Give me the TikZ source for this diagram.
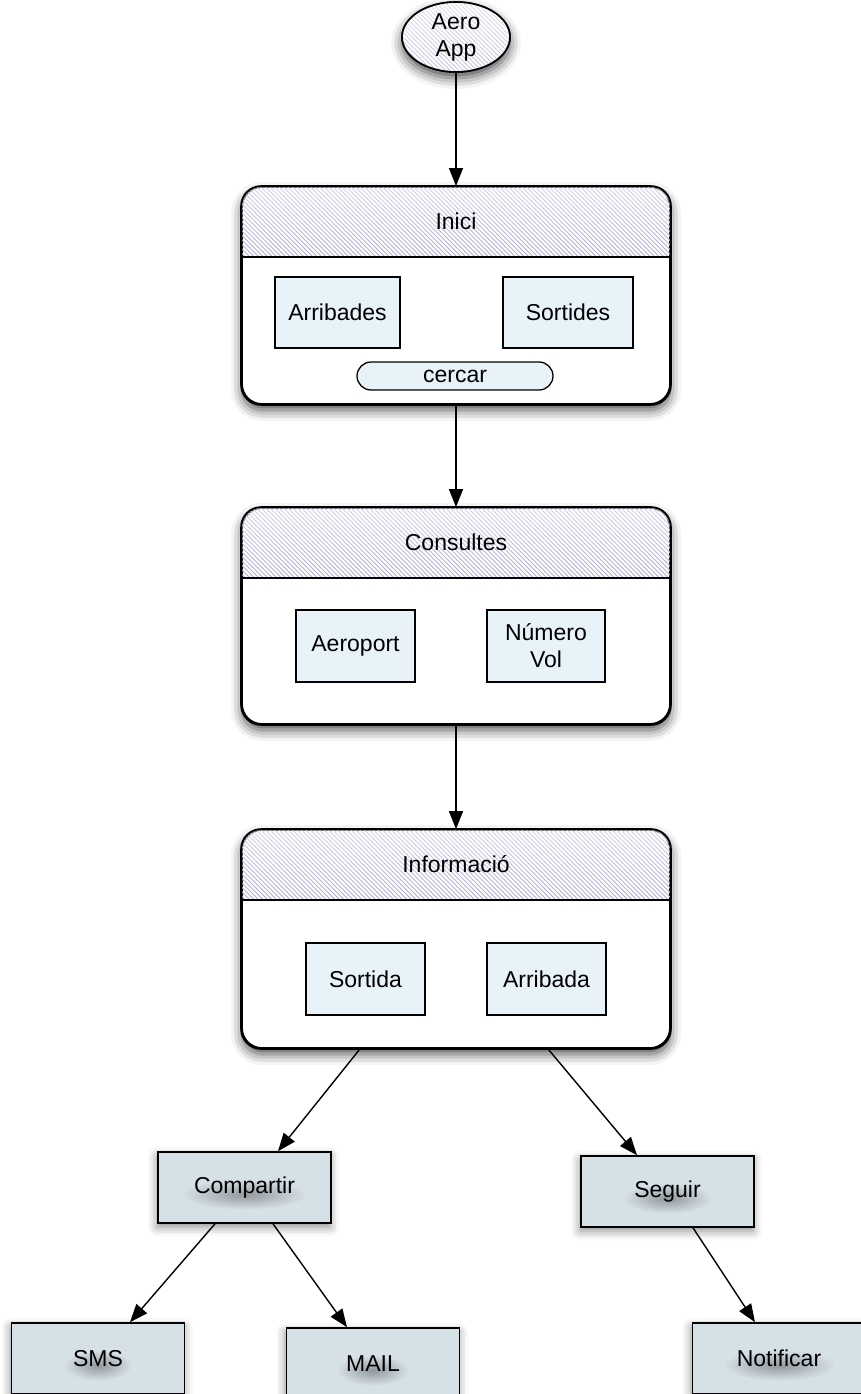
\documentclass[tikz,border=0pt]{standalone}
\usepackage{fontspec}
\setmainfont{Liberation Sans}
\usetikzlibrary{calc,arrows.meta,shapes.geometric,shadows.blur,fadings}

\definecolor{stripecol}{RGB}{170,170,215}
\definecolor{innerfill}{RGB}{232,243,249}
\definecolor{leaffill}{RGB}{214,225,231}

\tikzfading[name=fadetop, top color=transparent!0, bottom color=transparent!100]
\tikzfading[name=softblob, inner color=transparent!0, outer color=transparent!100]

% stripes over the box (#1,#2) with width #3 and height #4 (already clipped)
\newcommand{\hatchlines}[4]{%
  \pgfmathtruncatemacro\nstripes{(#3+#4)/4.5}%
  \foreach \k in {0,...,\nstripes}{\draw[stripecol, line width=0.95pt] ({#1-#4+\k*4.5},#2) -- ++(#4,#4);}%
  \fill[white, opacity=.5, path fading=fadetop] (#1,#2) rectangle ++(#3,#4);}

\newcommand{\glowblob}[2]{% #1 node, #2 half width
  \fill[black, opacity=.32, path fading=softblob] ($(#1.center)+(0,7)$) ellipse (#2 and 15);}

\tikzset{
  every node/.style={font=\fontsize{23}{27}\selectfont, align=center},
  bshadow/.style={blur shadow={shadow xshift=0pt, shadow yshift=-6pt, shadow blur radius=11pt, shadow opacity=70}},
  lshadow/.style={blur shadow={shadow xshift=-1pt, shadow yshift=-4pt, shadow blur radius=9pt, shadow opacity=45}},
  container/.style={rectangle, draw, line width=1.8pt, rounded corners=20pt, fill=white, minimum width=428pt, inner sep=0pt, bshadow},
  frame/.style={line width=1.8pt, rounded corners=20pt},
  hdrline/.style={line width=1.5pt},
  innerbox/.style={rectangle, draw, line width=1.3pt, fill=innerfill, minimum width=119pt, minimum height=72pt, inner sep=0pt},
  leafbox/.style={rectangle, draw, line width=1.6pt, fill=leaffill, minimum width=173pt, minimum height=71pt, inner sep=0pt, lshadow},
  conn/.style={line width=1.4pt, -{Triangle[length=18pt,width=14pt]}},
}

\begin{document}
\begin{tikzpicture}[x=1pt,y=-1pt]
\useasboundingbox (0,0) rectangle (860,1394);

% Aero App
\node[ellipse, draw, line width=1.6pt, fill=white, minimum width=108pt, minimum height=70pt, inner sep=0pt, bshadow] (app) at (456,37) {};
\begin{scope}
  \clip (app.center) ellipse (54 and 35);
  \hatchlines{402}{2}{108}{70}
  \fill[white, opacity=.3] (402,2) rectangle ++(108,70);
\end{scope}
\draw[line width=1.6pt] (app.center) ellipse (54 and 35);
\node (appT) at (app.center) {Aero\\App};

% Inici
\node[container, minimum height=217pt] (inici) at (456,295.5) {};
\begin{scope}
  \clip[rounded corners=20pt] (inici.north west) rectangle (inici.south east);
  \clip (inici.north west) rectangle ($(inici.north east)+(0,71)$);
  \hatchlines{242}{187}{428}{71}
\end{scope}
\draw[frame] (inici.north west) rectangle (inici.south east);
\draw[hdrline] ($(inici.north west)+(0,71)$) -- ($(inici.north east)+(0,71)$);
\node (iniciT) at ($(inici.north)+(0,35.5)$) {Inici};
\node[innerbox, minimum width=125pt, minimum height=71pt] (arribades) at (337.5,312.5) {Arribades};
\node[innerbox, minimum width=130pt, minimum height=71pt] (sortides) at (568,312.5) {Sortides};
\node[rectangle, rounded corners=14pt, draw, line width=1.3pt, fill=innerfill, minimum width=196pt, minimum height=28pt, inner sep=0pt] (cercar) at (455,376) {cercar};

% Consultes
\node[container, minimum height=216pt] (consultes) at (456,616) {};
\begin{scope}
  \clip[rounded corners=20pt] (consultes.north west) rectangle (consultes.south east);
  \clip (consultes.north west) rectangle ($(consultes.north east)+(0,71)$);
  \hatchlines{242}{508}{428}{71}
\end{scope}
\draw[frame] (consultes.north west) rectangle (consultes.south east);
\draw[hdrline] ($(consultes.north west)+(0,71)$) -- ($(consultes.north east)+(0,71)$);
\node (consultesT) at ($(consultes.north)+(0,35.5)$) {Consultes};
\node[innerbox] (aeroport) at (355.5,646) {Aeroport};
\node[innerbox, minimum width=118pt] (numvol) at (546,646) {Número\\Vol};

% Informacio
\node[container, minimum height=218pt] (info) at (456,939) {};
\begin{scope}
  \clip[rounded corners=20pt] (info.north west) rectangle (info.south east);
  \clip (info.north west) rectangle ($(info.north east)+(0,71)$);
  \hatchlines{242}{830}{428}{71}
\end{scope}
\draw[frame] (info.north west) rectangle (info.south east);
\draw[hdrline] ($(info.north west)+(0,71)$) -- ($(info.north east)+(0,71)$);
\node (infoT) at ($(info.north)+(0,35.5)$) {Informació};
\node[innerbox] (sortida) at (365.5,979) {Sortida};
\node[innerbox] (arribada) at (546.5,979) {Arribada};

% leaves
\node[leafbox] (compartir) at (244.5,1187.5) {Compartir};
\node[leafbox] (seguir) at (667.5,1191.5) {Seguir};
\node[leafbox] (sms) at (98,1358.5) {SMS};
\node[leafbox] (mail) at (373,1363.5) {MAIL};
\node[leafbox] (notif) at (779,1358.5) {Notificar};

\glowblob{compartir}{62}
\glowblob{seguir}{44}
\glowblob{sms}{34}
\glowblob{mail}{36}
\glowblob{notif}{56}

% connectors
\draw[conn] (app.south) -- (inici.north);
\draw[conn] (inici.south) -- (consultes.north);
\draw[conn] (consultes.south) -- (info.north);
\draw[conn] ($(info.south)+(-96,0)$) -- ($(compartir.north)+(33.5,0)$);
\draw[conn] ($(info.south)+(92,0)$) -- ($(seguir.north)+(-30.5,0)$);
\draw[conn] ($(compartir.south)+(-29.5,0)$) -- ($(sms.north)+(32,0)$);
\draw[conn] ($(compartir.south)+(28.5,0)$) -- ($(mail.north)+(-26,0)$);
\draw[conn] ($(seguir.south)+(25.5,0)$) -- ($(notif.north)+(-24,0)$);
\end{tikzpicture}
\end{document}
